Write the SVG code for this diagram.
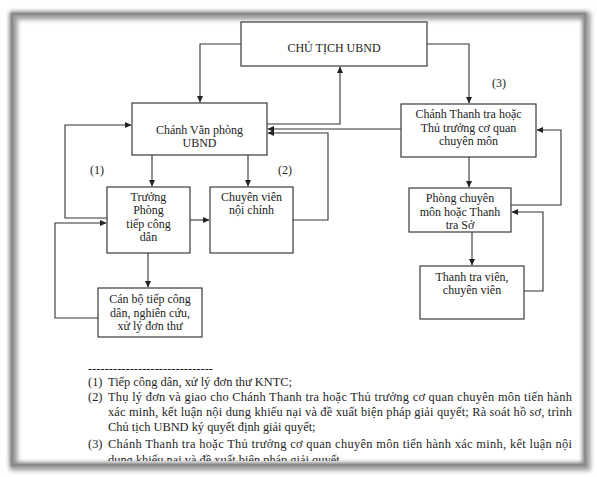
<svg xmlns="http://www.w3.org/2000/svg" width="597" height="477" viewBox="0 0 597 477">
<defs>
<style>
.box{fill:#fff;stroke:#3a3a3a;stroke-width:1.2}
.t{font-family:"Liberation Serif","Times New Roman",serif;font-size:12px;fill:#222;text-anchor:middle}
.n{font-family:"Liberation Serif","Times New Roman",serif;font-size:12.4px;fill:#1e1e1e}
.c{fill:none;stroke:#333;stroke-width:1.1}
</style>
<marker id="ah" markerWidth="7" markerHeight="7" refX="6" refY="3.5" orient="auto" markerUnits="userSpaceOnUse">
<path d="M0,0.5 L6.5,3.5 L0,6.5 Z" fill="#222"/>
</marker>
<filter id="blur" x="-5%" y="-5%" width="110%" height="110%">
<feGaussianBlur stdDeviation="2"/>
</filter>
<clipPath id="cut"><rect x="0" y="0" width="597" height="461"/></clipPath>
</defs>
<rect width="597" height="477" fill="#fff"/>

<g id="frame">
<rect x="14" y="16" width="573" height="451" fill="none" stroke="#b0b0b0" stroke-width="8" filter="url(#blur)"/>
<rect x="12" y="14" width="573" height="451" fill="none" stroke="#8c8c8c" stroke-width="4" filter="url(#blur)"/>
<rect x="12" y="14" width="573" height="451" fill="none" stroke="#8a8a8a" stroke-width="2.5"/>
</g>

<g id="connectors">
<path class="c" d="M241,44 H200 V102" marker-end="url(#ah)"/>
<path class="c" d="M427,44 H469 V103" marker-end="url(#ah)"/>
<path class="c" d="M267,124 H340 V67" marker-end="url(#ah)"/>
<path class="c" d="M401,129 H268" marker-end="url(#ah)"/>
<path class="c" d="M293,220 H328 V133 H268" marker-end="url(#ah)"/>
<path class="c" d="M152,155 V186" marker-end="url(#ah)"/>
<path class="c" d="M248,155 V186" marker-end="url(#ah)"/>
<path class="c" d="M107,218 H65 V125 H131" marker-end="url(#ah)"/>
<path class="c" d="M98,318 H55 V223 H106" marker-end="url(#ah)"/>
<path class="c" d="M190,220 H209" marker-end="url(#ah)"/>
<path class="c" d="M148,253 V287" marker-end="url(#ah)"/>
<path class="c" d="M469,157 V187" marker-end="url(#ah)"/>
<path class="c" d="M511,205 H561 V130 H537" marker-end="url(#ah)"/>
<path class="c" d="M472,232 V265" marker-end="url(#ah)"/>
<path class="c" d="M524,291 H543 V212 H512" marker-end="url(#ah)"/>
</g>

<g id="chu-tich">
<rect class="box" x="241" y="22" width="186" height="44"/>
<text class="t" x="334" y="52">CHỦ TỊCH UBND</text>
</g>
<g id="chanh-van-phong">
<rect class="box" x="132" y="103" width="135" height="52"/>
<text class="t" x="199.5" y="133.5">Chánh Văn phòng</text>
<text class="t" x="199.5" y="147">UBND</text>
</g>
<g id="truong-phong">
<rect class="box" x="107" y="187" width="83" height="66"/>
<text class="t" x="148.5" y="200.5">Trưởng</text>
<text class="t" x="148.5" y="214">Phòng</text>
<text class="t" x="148.5" y="227.5">tiếp công</text>
<text class="t" x="148.5" y="241">dân</text>
</g>
<g id="chuyen-vien-noi-chinh">
<rect class="box" x="210" y="187" width="83" height="66"/>
<text class="t" x="251.5" y="200.5">Chuyên viên</text>
<text class="t" x="251.5" y="214">nội chính</text>
</g>
<g id="can-bo">
<rect class="box" x="98" y="288" width="104" height="49"/>
<text class="t" x="150" y="303">Cán bộ tiếp công</text>
<text class="t" x="150" y="316.5">dân, nghiên cứu,</text>
<text class="t" x="150" y="330">xử lý đơn thư</text>
</g>
<g id="chanh-thanh-tra">
<rect class="box" x="401" y="104" width="135" height="53"/>
<text class="t" x="468.5" y="118">Chánh Thanh tra hoặc</text>
<text class="t" x="468.5" y="131.5">Thủ trưởng cơ quan</text>
<text class="t" x="468.5" y="145">chuyên môn</text>
</g>
<g id="phong-chuyen-mon">
<rect class="box" x="409" y="188" width="102" height="44"/>
<text class="t" x="460" y="202">Phòng chuyên</text>
<text class="t" x="460" y="215.5">môn hoặc Thanh</text>
<text class="t" x="460" y="229">tra Sở</text>
</g>
<g id="thanh-tra-vien">
<rect class="box" x="420" y="266" width="104" height="53"/>
<text class="t" x="472" y="280.5">Thanh tra viên,</text>
<text class="t" x="472" y="294">chuyên viên</text>
</g>

<g id="labels">
<text class="t" x="97" y="174">(1)</text>
<text class="t" x="285" y="174">(2)</text>
<text class="t" x="499" y="87">(3)</text>
</g>

<g id="notes">
<text class="n" x="88" y="372" textLength="125" lengthAdjust="spacingAndGlyphs">------------------------------</text>
<text class="n" x="88" y="386">(1)</text>
<text class="n" x="108" y="386">Tiếp công dân, xử lý đơn thư KNTC;</text>
<text class="n" x="88" y="401">(2)</text>
<text class="n" x="108" y="401" textLength="464" lengthAdjust="spacing">Thụ lý đơn và giao cho Chánh Thanh tra hoặc Thủ trưởng cơ quan chuyên môn tiến hành</text>
<text class="n" x="108" y="416" textLength="464" lengthAdjust="spacing">xác minh, kết luận nội dung khiếu nại và đề xuất biện pháp giải quyết; Rà soát hồ sơ, trình</text>
<text class="n" x="108" y="431">Chủ tịch UBND ký quyết định giải quyết;</text>
<text class="n" x="88" y="448">(3)</text>
<text class="n" x="108" y="448" textLength="464" lengthAdjust="spacing">Chánh Thanh tra hoặc Thủ trưởng cơ quan  chuyên môn tiến hành xác minh, kết luận nội</text>
<text class="n" x="108" y="464" clip-path="url(#cut)">dung khiếu nại và đề xuất biện pháp giải quyết.</text>
</g>
</svg>
